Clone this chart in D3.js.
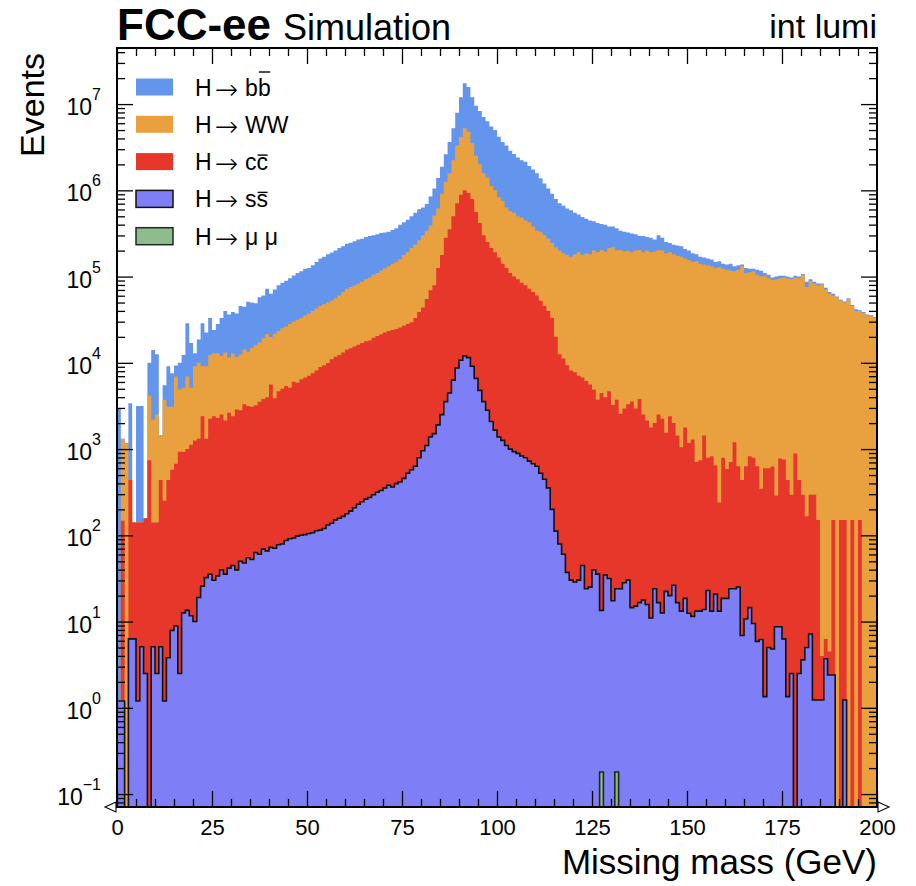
<!DOCTYPE html>
<html>
<head>
<meta charset="utf-8">
<script src="https://cdn.jsdelivr.net/npm/d3@7"></script>
<style>
  html, body { margin: 0; padding: 0; background: #fff; }
  svg { display: block; font-family: "Liberation Sans", Arial, Helvetica, sans-serif; }
</style>
</head>
<body>
<svg id="chart" width="916" height="886"></svg>
<script>
// Missing mass, 1 GeV bins from 0 to 200 GeV
const massRange = [0, 200];
const binWidth = 1;

// Upper edge of each layer of the stack (events per bin).
// The stack is built mumu -> ss -> cc -> WW -> bb, so stackTotal is the top of bb.
const stackTotal = [
  3000, 1320, 1170, 3390, 141, 3160, 3160, 158, 10000, 14100,
  12600, 1450, 5500, 9120, 7590, 9330, 10000, 12300, 28800, 17000,
  12900, 18600, 28800, 22400, 33100, 24000, 28200, 33100, 39800, 36300,
  38900, 37200, 45700, 44600, 51200, 50100, 49000, 57500, 60300, 72400,
  63100, 70800, 79300, 85000, 89200, 95600, 1.03e5, 1.1e5, 1.15e5, 1.23e5,
  1.26e5, 1.35e5, 1.48e5, 1.62e5, 1.7e5, 1.82e5, 1.9e5, 2.0e5, 2.14e5, 2.24e5,
  2.4e5, 2.46e5, 2.57e5, 2.69e5, 2.75e5, 2.88e5, 2.95e5, 3.02e5, 3.09e5, 3.2e5,
  3.24e5, 3.31e5, 3.47e5, 3.63e5, 3.98e5, 4.27e5, 4.57e5, 5.01e5, 5.5e5, 6.03e5,
  6.31e5, 6.94e5, 8.5e5, 1.05e6, 1.39e6, 1.88e6, 2.62e6, 3.63e6, 5.25e6, 7.94e6,
  1.2e7, 1.74e7, 1.58e7, 1.2e7, 9.55e6, 8.32e6, 7.08e6, 6.31e6, 5.5e6, 5.01e6,
  4.17e6, 3.63e6, 3.31e6, 2.88e6, 2.63e6, 2.4e6, 2.24e6, 2.14e6, 1.91e6, 1.74e6,
  1.58e6, 1.38e6, 1.2e6, 1.05e6, 9.12e5, 7.94e5, 7.08e5, 6.61e5, 6.17e5, 5.89e5,
  5.5e5, 5.25e5, 4.9e5, 4.68e5, 4.47e5, 4.37e5, 4.17e5, 4.07e5, 3.98e5, 3.8e5,
  3.8e5, 3.63e5, 3.39e5, 3.31e5, 3.24e5, 3.16e5, 3.09e5, 2.95e5, 2.95e5, 2.88e5,
  2.82e5, 2.69e5, 3.02e5, 2.82e5, 2.51e5, 2.45e5, 2.34e5, 2.29e5, 2.24e5, 2.09e5,
  2.0e5, 1.86e5, 1.82e5, 1.7e5, 1.66e5, 1.62e5, 1.58e5, 1.48e5, 1.51e5, 1.41e5,
  1.38e5, 1.41e5, 1.32e5, 1.35e5, 1.38e5, 1.26e5, 1.23e5, 1.23e5, 1.2e5, 1.17e5,
  1.1e5, 1.05e5, 9.77e4, 1.0e5, 1.02e5, 1.02e5, 1.0e5, 9.77e4, 1.02e5, 1.0e5,
  1.07e5, 8.71e4, 9.33e4, 8.71e4, 8.32e4, 8.32e4, 7.41e4, 6.61e4, 6.31e4, 5.89e4,
  5.37e4, 5.13e4, 5.62e4, 4.68e4, 4.17e4, 4.07e4, 3.89e4, 3.63e4, 3.55e4, 3.39e4
];

const stackWW = [
  1.2, 1320, 1170, 437, 141, 141, 141, 158, 4170, 2190,
  2510, 1450, 3720, 3090, 3090, 6920, 4900, 5130, 6920, 5130,
  9120, 10000, 9120, 9120, 12300, 12900, 12900, 12000, 13200, 11500,
  12800, 11700, 12500, 14300, 13400, 14900, 16000, 17200, 19300, 21600,
  19900, 21800, 23400, 25100, 26300, 28200, 30200, 31600, 33100, 35500,
  37200, 39800, 42600, 45700, 47900, 50100, 52500, 56200, 60300, 66100,
  72400, 75800, 79400, 83400, 87300, 92900, 97700, 1.05e5, 1.1e5, 1.18e5,
  1.25e5, 1.32e5, 1.41e5, 1.48e5, 1.59e5, 1.78e5, 1.91e5, 2.14e5, 2.34e5, 2.63e5,
  3.02e5, 3.4e5, 3.9e5, 5.12e5, 6.17e5, 9.12e5, 1.26e6, 1.58e6, 2.24e6, 3.31e6,
  4.17e6, 5.25e6, 4.79e6, 3.55e6, 2.51e6, 2.0e6, 1.58e6, 1.41e6, 1.12e6, 1.0e6,
  8.32e5, 7.59e5, 6.31e5, 5.75e5, 5.5e5, 5.01e5, 4.79e5, 4.47e5, 4.27e5, 3.8e5,
  3.39e5, 3.31e5, 3.02e5, 2.75e5, 2.45e5, 2.19e5, 2.0e5, 1.86e5, 1.78e5, 1.7e5,
  1.82e5, 1.91e5, 1.78e5, 1.86e5, 1.82e5, 2.0e5, 1.91e5, 2.04e5, 1.95e5, 2.14e5,
  2.19e5, 2.0e5, 2.04e5, 1.95e5, 2.0e5, 1.91e5, 2.0e5, 2.04e5, 1.91e5, 2.0e5,
  1.91e5, 1.95e5, 2.04e5, 2.0e5, 1.86e5, 1.91e5, 1.82e5, 1.74e5, 1.7e5, 1.62e5,
  1.55e5, 1.48e5, 1.51e5, 1.41e5, 1.38e5, 1.35e5, 1.32e5, 1.26e5, 1.29e5, 1.23e5,
  1.2e5, 1.17e5, 1.15e5, 1.2e5, 1.32e5, 1.1e5, 1.12e5, 1.15e5, 1.05e5, 1.0e5,
  1.02e5, 9.55e4, 9.12e4, 9.33e4, 9.55e4, 9.77e4, 9.55e4, 9.33e4, 9.77e4, 9.55e4,
  1.05e5, 7.59e4, 8.91e4, 8.32e4, 7.94e4, 8.13e4, 7.08e4, 6.31e4, 6.03e4, 5.75e4,
  5.25e4, 5.01e4, 5.5e4, 4.57e4, 3.98e4, 3.98e4, 3.8e4, 3.55e4, 3.47e4, 3.31e4
];

const stackCC = [
  1.2, 148, 0, 437, 141, 141, 141, 158, 741, 141,
  141, 437, 251, 437, 575, 676, 933, 933, 1000, 1120,
  1260, 1320, 2400, 1320, 2240, 2400, 2290, 2510, 2140, 2630,
  2400, 2880, 2820, 3310, 3160, 3090, 3230, 3540, 3800, 3980,
  5620, 3890, 4680, 5010, 5370, 5130, 6030, 5890, 6460, 6760,
  7080, 7580, 8140, 8920, 9350, 9980, 11000, 11800, 12300, 13200,
  14200, 14800, 15500, 16200, 17000, 17800, 18200, 19500, 20400, 21400,
  22400, 23400, 24000, 24600, 25700, 26900, 28200, 29500, 33100, 38900,
  43700, 55000, 69200, 79500, 1.26e5, 1.78e5, 2.82e5, 3.55e5, 5.01e5, 7.08e5,
  8.91e5, 1.0e6, 9.33e5, 7.94e5, 5.62e5, 4.17e5, 3.02e5, 2.51e5, 2.14e5, 1.91e5,
  1.66e5, 1.41e5, 1.26e5, 1.1e5, 1.0e5, 93300, 85100, 79400, 72400, 66100,
  60300, 52500, 45700, 39800, 33100, 20000, 12600, 11200, 9350, 8140,
  7790, 7080, 6760, 6170, 5620, 4900, 3720, 4470, 3980, 4680,
  3240, 3720, 2570, 2950, 3310, 3550, 2950, 3800, 2510, 2140,
  1780, 2000, 2510, 2240, 1550, 2400, 2000, 1440, 1050, 1780,
  1180, 1290, 708, 743, 1440, 793, 828, 646, 240, 793,
  589, 708, 1200, 631, 437, 631, 828, 793, 631, 347,
  600, 600, 630, 290, 775, 759, 437, 295, 891, 437,
  295, 166, 295, 295, 151, 4.0, 6.3, 4.5, 151, 0,
  151, 151, 0, 151, 0, 151, 0, 0, 0, 0
];

const stackSS = [
  1.2, 1.2, 0, 6.3, 6.3, 1.2, 5.1, 2.5, 0, 5.1,
  2.5, 5.1, 1.2, 3.8, 7.9, 8.9, 2.5, 12.6, 13.5, 11.7,
  10, 19, 25.7, 32.3, 35.4, 30.1, 33.8, 39.8, 35.5, 41.7,
  44.7, 39.8, 50.1, 47.8, 55, 52.5, 63.1, 60.3, 69.2, 66.1,
  72.4, 70.8, 77.7, 79.4, 87.1, 91.2, 93, 98, 100, 102,
  105, 107, 113, 115, 120, 132, 138, 151, 158, 166,
  178, 191, 209, 229, 245, 263, 275, 295, 316, 331,
  355, 380, 363, 398, 417, 457, 525, 575, 631, 794,
  955, 1100, 1380, 1510, 1910, 2510, 3550, 4470, 6310, 8710,
  10700, 12000, 11500, 9120, 6610, 4790, 3550, 2820, 2090, 1660,
  1380, 1260, 1100, 1000, 933, 891, 832, 794, 724, 676,
  631, 525, 447, 355, 200, 112, 79.4, 60.3, 37.2, 30.2,
  28.8, 30.2, 44.7, 24, 25.1, 39.8, 35.5, 13.5, 34.7, 31.6,
  17.4, 24, 24, 28.2, 30.2, 14.5, 15.1, 16.6, 17.8, 15.8,
  11, 24, 16.6, 12.6, 22.4, 20, 26.4, 16.6, 13.2, 18.6,
  12.5, 11.5, 13.2, 13.2, 13.8, 22.9, 13.2, 20.8, 13.2, 18.6,
  18.6, 24, 24, 25.2, 6.9, 10.7, 14.5, 9.5, 5.9, 6.2,
  1.35, 5.0, 4.8, 8.7, 8.7, 6.3, 1.35, 2.5, 0, 2.5,
  3.6, 5.0, 7.2, 1.23, 1.23, 1.23, 3.7, 2.4, 2.4, 0,
  0, 1.23, 0, 0, 0, 0, 0, 0, 0, 0
];

// H -> mumu only has two filled bins
const muMuBins = [127, 131];
const muMuValues = [0.18, 0.18];

const legendLabels = ["H → bb", "H → WW", "H → cc", "H → ss", "H → μ μ"];
const xTickValues = [0, 25, 50, 75, 100, 125, 150, 175, 200];
const yTickExponents = [-1, 0, 1, 2, 3, 4, 5, 6, 7];

const plot = { left: 117, right: 877, top: 48, bottom: 807 };

const binEdges = d3.range(massRange[0], massRange[1] + binWidth, binWidth);
const stackMuMu = binEdges.slice(0, -1).map(() => 0);
muMuBins.forEach((b, i) => { stackMuMu[b] = muMuValues[i]; });

const series = [
  { label: legendLabels[0], barLast: true,  levels: stackTotal, fill: "#6495ed", edge: null },
  { label: legendLabels[1], barLast: false, levels: stackWW,    fill: "#e9a03f", edge: null },
  { label: legendLabels[2], barLast: true,  levels: stackCC,    fill: "#e7362a", edge: null },
  { label: legendLabels[3], barLast: true,  levels: stackSS,    fill: "#7e7ef6", edge: "#111" },
  { label: legendLabels[4], barLast: false, levels: stackMuMu,  fill: "#8fbc8f", edge: "#1c2a1c" }
];

const svg = d3.select("#chart");

const x = d3.scaleLinear().domain(massRange).range([plot.left, plot.right]);
const y = d3.scaleLog().domain([0.0708, 4.47e7]).range([plot.bottom, plot.top]).clamp(true);
const yv = v => (v > 0 ? y(v) : plot.bottom);

svg.append("defs").append("clipPath").attr("id", "plotclip")
  .append("rect")
  .attr("x", plot.left).attr("y", plot.top)
  .attr("width", plot.right - plot.left).attr("height", plot.bottom - plot.top);

const steps = vals => {
  const pts = vals.map((v, i) => [binEdges[i], v]);
  pts.push([binEdges[vals.length], vals[vals.length - 1]]);
  return pts;
};

const area = d3.area().curve(d3.curveStepAfter)
  .x(d => x(d[0])).y0(plot.bottom).y1(d => yv(d[1]));
const line = d3.line().curve(d3.curveStepAfter)
  .x(d => x(d[0])).y(d => yv(d[1]));

const hist = svg.append("g").attr("clip-path", "url(#plotclip)");
series.forEach(s => {
  hist.append("path").attr("d", area(steps(s.levels))).attr("fill", s.fill);
  if (s.edge) {
    hist.append("path").attr("d", line(steps(s.levels)))
      .attr("fill", "none").attr("stroke", s.edge).attr("stroke-width", 1.6);
  }
});

// ticks (inward, on all four sides)
const xMinor = d3.range(0, 201, 5).filter(v => v % 25 !== 0);
const yMinor = [];
for (let k = -2; k <= 7; k++) {
  for (let m = 2; m <= 9; m++) {
    const v = m * Math.pow(10, k);
    if (v > y.domain()[0] && v < y.domain()[1]) yMinor.push(v);
  }
}
const yMajor = yTickExponents.map(k => Math.pow(10, k));

function styleAxis(g) {
  g.select(".domain").remove();
  g.selectAll(".tick line").attr("stroke", "#000").attr("stroke-width", 1.3);
}

svg.append("g").attr("transform", `translate(0,${plot.bottom})`)
  .call(d3.axisBottom(x).tickValues(xTickValues).tickSize(-16).tickPadding(12).tickFormat(d3.format("d")))
  .call(styleAxis)
  .call(g => g.selectAll("text").attr("font-size", 22).attr("fill", "#000")
    .attr("font-family", "'Liberation Sans', Arial, sans-serif"));
svg.append("g").attr("transform", `translate(0,${plot.bottom})`)
  .call(d3.axisBottom(x).tickValues(xMinor).tickSize(-8).tickFormat(""))
  .call(styleAxis);
svg.append("g").attr("transform", `translate(0,${plot.top})`)
  .call(d3.axisTop(x).tickValues(xTickValues).tickSize(-16).tickFormat(""))
  .call(styleAxis);
svg.append("g").attr("transform", `translate(0,${plot.top})`)
  .call(d3.axisTop(x).tickValues(xMinor).tickSize(-8).tickFormat(""))
  .call(styleAxis);

svg.append("g").attr("transform", `translate(${plot.left},0)`)
  .call(d3.axisLeft(y).tickValues(yMajor).tickSize(-16).tickFormat(""))
  .call(styleAxis);
svg.append("g").attr("transform", `translate(${plot.left},0)`)
  .call(d3.axisLeft(y).tickValues(yMinor).tickSize(-8).tickFormat(""))
  .call(styleAxis);
svg.append("g").attr("transform", `translate(${plot.right},0)`)
  .call(d3.axisRight(y).tickValues(yMajor).tickSize(-16).tickFormat(""))
  .call(styleAxis);
svg.append("g").attr("transform", `translate(${plot.right},0)`)
  .call(d3.axisRight(y).tickValues(yMinor).tickSize(-8).tickFormat(""))
  .call(styleAxis);

// y tick labels as 10^k
const yLab = svg.append("g");
yTickExponents.forEach(k => {
  const t = yLab.append("text")
    .attr("x", plot.left - 16)
    .attr("y", y(Math.pow(10, k)) + 11)
    .attr("text-anchor", "end").attr("fill", "#000");
  t.append("tspan").attr("font-size", 23).text("10");
  t.append("tspan").attr("font-size", 16).attr("dy", -15)
    .text(k < 0 ? "\u2212" + (-k) : String(k));
});

// frame
svg.append("rect")
  .attr("x", plot.left).attr("y", plot.top)
  .attr("width", plot.right - plot.left).attr("height", plot.bottom - plot.top)
  .attr("fill", "none").attr("stroke", "#000").attr("stroke-width", 2);

// flow hints at the bottom corners
svg.append("path")
  .attr("d", `M${plot.left - 1},${plot.bottom - 5}L${plot.left - 12},${plot.bottom}L${plot.left - 1},${plot.bottom + 5}Z`)
  .attr("fill", "#fff").attr("stroke", "#000").attr("stroke-width", 1.1);
svg.append("path")
  .attr("d", `M${plot.right + 1},${plot.bottom - 5}L${plot.right + 12},${plot.bottom}L${plot.right + 1},${plot.bottom + 5}Z`)
  .attr("fill", "#fff").attr("stroke", "#000").attr("stroke-width", 1.1);

// legend
const legend = svg.append("g");
series.forEach((s, i) => {
  const cy = 87 + i * 37.3;
  legend.append("rect")
    .attr("x", 136).attr("y", cy - 8.5).attr("width", 37).attr("height", 17)
    .attr("fill", s.fill)
    .attr("stroke", s.edge || "none").attr("stroke-width", s.edge ? 1.5 : 0);
  const [lhs, rhs] = s.label.split(" → ");
  const t = legend.append("text")
    .attr("x", 195).attr("y", cy + 8.5)
    .attr("font-size", 23).attr("fill", "#000");
  t.append("tspan").text(lhs);
  t.append("tspan").attr("dx", 3).attr("dy", 3)
    .attr("font-family", "'DejaVu Sans', sans-serif").attr("font-weight", 200)
    .attr("font-size", 28).text("→");
  t.append("tspan").attr("dx", 7).attr("dy", -3).text(rhs);
  if (s.barLast) {
    const node = t.node();
    const n = node.getNumberOfChars() - 1;
    const x0 = node.getStartPositionOfChar(n).x;
    const x1 = node.getEndPositionOfChar(n).x;
    const tall = "bdfhklt".includes(rhs[rhs.length - 1]);
    const yb = cy + 8.5 - (tall ? 23.5 : 15);
    legend.append("line")
      .attr("x1", x0 + 1).attr("x2", x1 - 0.5).attr("y1", yb).attr("y2", yb)
      .attr("stroke", "#000").attr("stroke-width", 1.4);
  }
});

// titles and axis labels
svg.append("text").attr("x", plot.left).attr("y", 40)
  .attr("font-size", 44).attr("font-weight", "bold").attr("fill", "#000")
  .text("FCC-ee");
svg.append("text").attr("x", 283).attr("y", 40)
  .attr("font-size", 36).attr("fill", "#000")
  .text("Simulation");
svg.append("text").attr("x", plot.right).attr("y", 38)
  .attr("text-anchor", "end").attr("font-size", 34).attr("fill", "#000")
  .text("int lumi");
svg.append("text")
  .attr("transform", `translate(44,${plot.top + 5}) rotate(-90)`)
  .attr("text-anchor", "end").attr("font-size", 34).attr("fill", "#000")
  .text("Events");
svg.append("text").attr("x", plot.right).attr("y", 874)
  .attr("text-anchor", "end").attr("font-size", 35).attr("fill", "#000")
  .text("Missing mass (GeV)");
</script>
</body>
</html>
